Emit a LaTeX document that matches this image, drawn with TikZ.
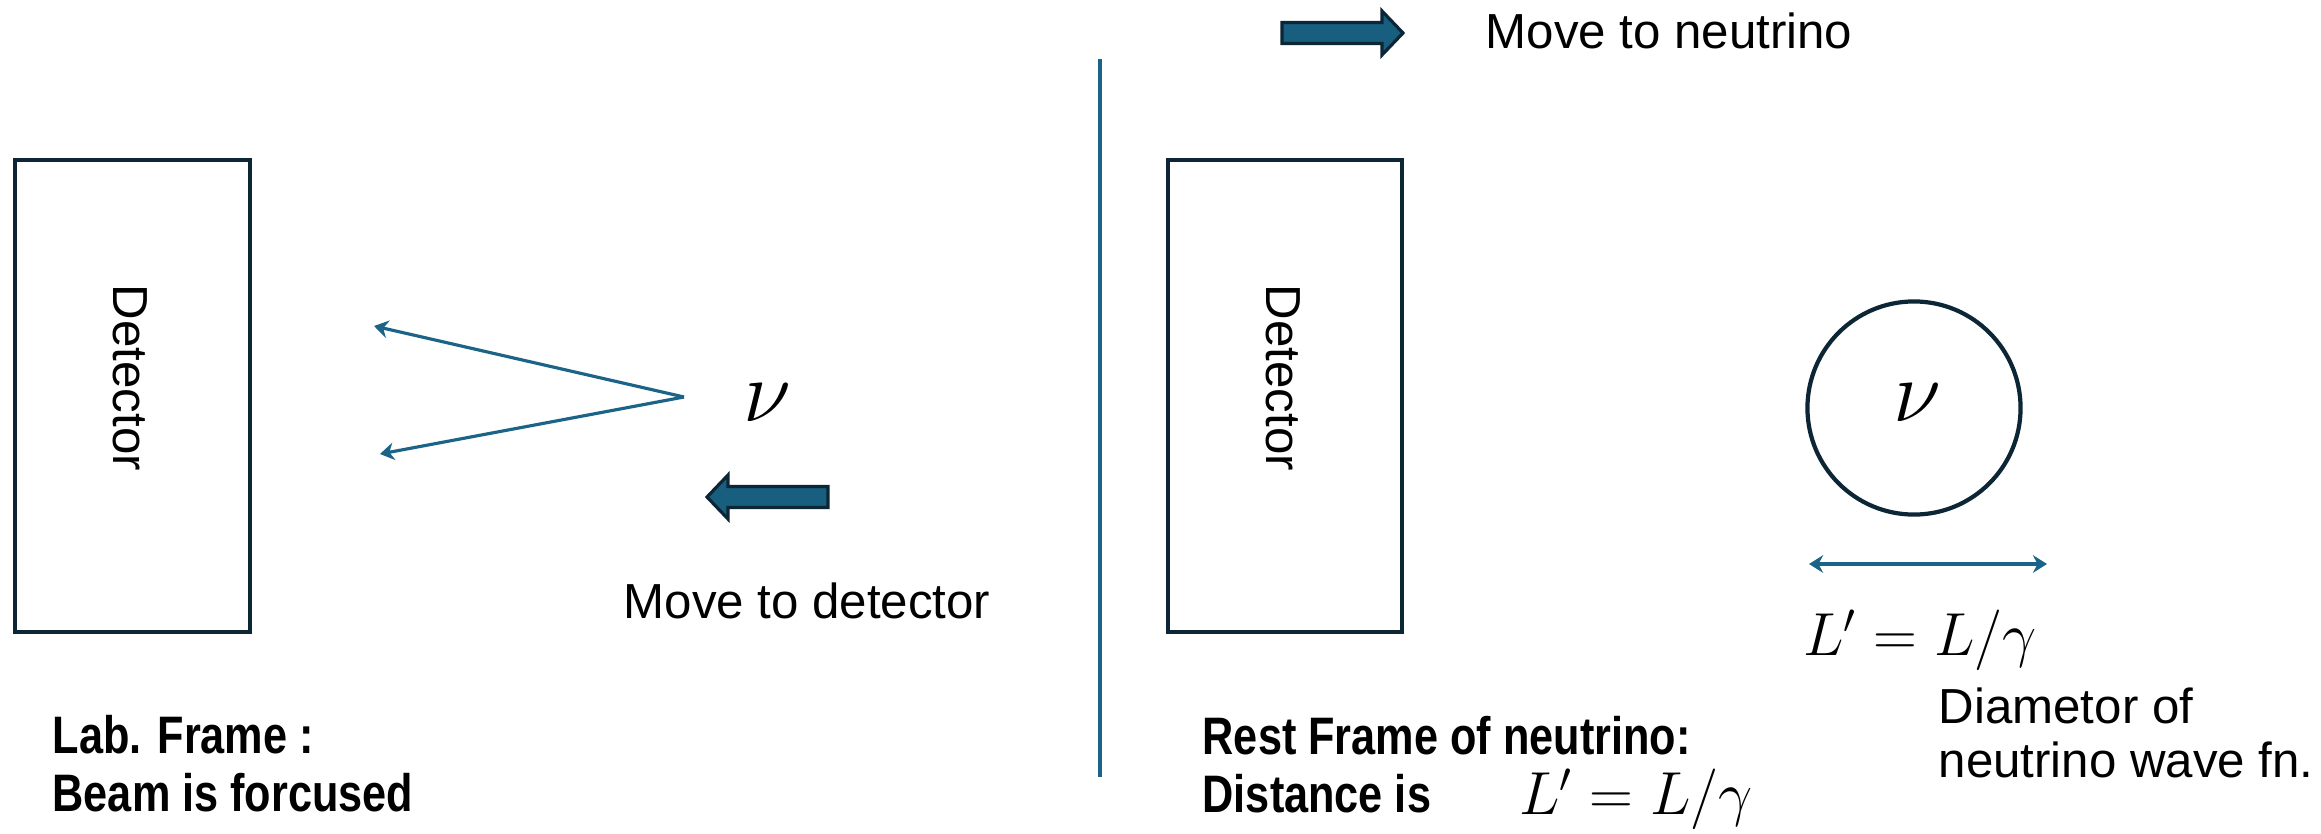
\documentclass[tikz,border=0pt]{standalone}
\usepackage{fontspec}
\setmainfont{Liberation Sans}
\newfontfamily\framefont[FakeStretch=0.82]{Liberation Sans}
\usetikzlibrary{arrows.meta}
\definecolor{rayblue}{RGB}{27,100,136}
\definecolor{arrowfill}{RGB}{24,94,126}
\definecolor{navy}{RGB}{12,38,54}
\begin{document}
\begin{tikzpicture}[x=0.01cm, y=-0.01cm,
    detbox/.style={draw=navy, line width=1.2pt},
    ray/.style={-{Stealth[length=4pt,width=5pt]}, draw=rayblue, line width=0.9pt},
    bigarrow/.style={draw=navy, fill=arrowfill, line width=0.9pt},
    txt/.style={font=\fontsize{14}{15.5}\selectfont, inner sep=0pt, align=left},
    frametxt/.style={font=\framefont\bfseries\fontsize{15}{16.5}\selectfont, inner sep=0pt, align=left},
    nu/.style={font=\fontsize{24}{28}\selectfont, inner sep=0pt},
    formula/.style={font=\fontsize{17}{20}\selectfont, inner sep=0pt}]
    \useasboundingbox (0,0) rectangle (2321,833);

    % Lab frame
    \draw[detbox] (15,160) rectangle (250,632);
    \node[txt, rotate=-90] (detLab) at (130,378) {Detector};
    \node[nu] (nuLab) at (767,403) {$\nu$};
    \coordinate (apex) at (684,397);
    \coordinate (rayUp) at (374,326);
    \coordinate (rayDown) at (380,454);
    \draw[ray] (apex) -- (rayUp);
    \draw[ray] (apex) -- (rayDown);
    \begin{scope}[shift={(707,497)}]
        \draw[bigarrow] (0,0) -- (21,-22) -- (21,-10.5) -- (121,-10.5) -- (121,10.5) -- (21,10.5) -- (21,22) -- cycle;
    \end{scope}
    \node[txt] (moveDet) at (807,601) {Move to detector};
    \node[frametxt, anchor=west] (labFrame) at (52,764) {Lab. Frame :\\Beam is forcused};

    % separator
    \coordinate (sepTop) at (1100,59);
    \coordinate (sepBot) at (1100,777);
    \draw[rayblue, line width=0.9pt] (sepTop) -- (sepBot);

    % Rest frame of neutrino
    \begin{scope}[shift={(1403,33)}, xscale=-1]
        \draw[bigarrow] (0,0) -- (21,-22) -- (21,-10.5) -- (121,-10.5) -- (121,10.5) -- (21,10.5) -- (21,22) -- cycle;
    \end{scope}
    \node[txt, anchor=west] (moveNu) at (1485,31) {Move to neutrino};
    \draw[detbox] (1168,160) rectangle (1402,632);
    \node[txt, rotate=-90] (detRest) at (1283,378) {Detector};
    \node[circle, draw=navy, line width=1.2pt, minimum size=2.13cm] (wave) at (1914,408) {};
    \node[nu] (nuRest) at (1917,403) {$\nu$};
    \coordinate (diamL) at (1809,564);
    \coordinate (diamR) at (2047,564);
    \draw[ray, {Stealth[length=4pt,width=5pt]}-{Stealth[length=4pt,width=5pt]}] (diamL) -- (diamR);
    \node[formula] (lenWave) at (1920,640) {$L' = L/\gamma$};
    \node[txt, anchor=west] (diamTxt) at (1938,733) {Diametor of\\neutrino wave fn.};
    \node[frametxt, anchor=west] (restFrame) at (1202,736) {Rest Frame of neutrino:};
    \node[frametxt, anchor=west] (distTxt) at (1202,794) {Distance is};
    \node[formula] (lenDist) at (1636,799) {$L' = L/\gamma$};
\end{tikzpicture}
\end{document}
